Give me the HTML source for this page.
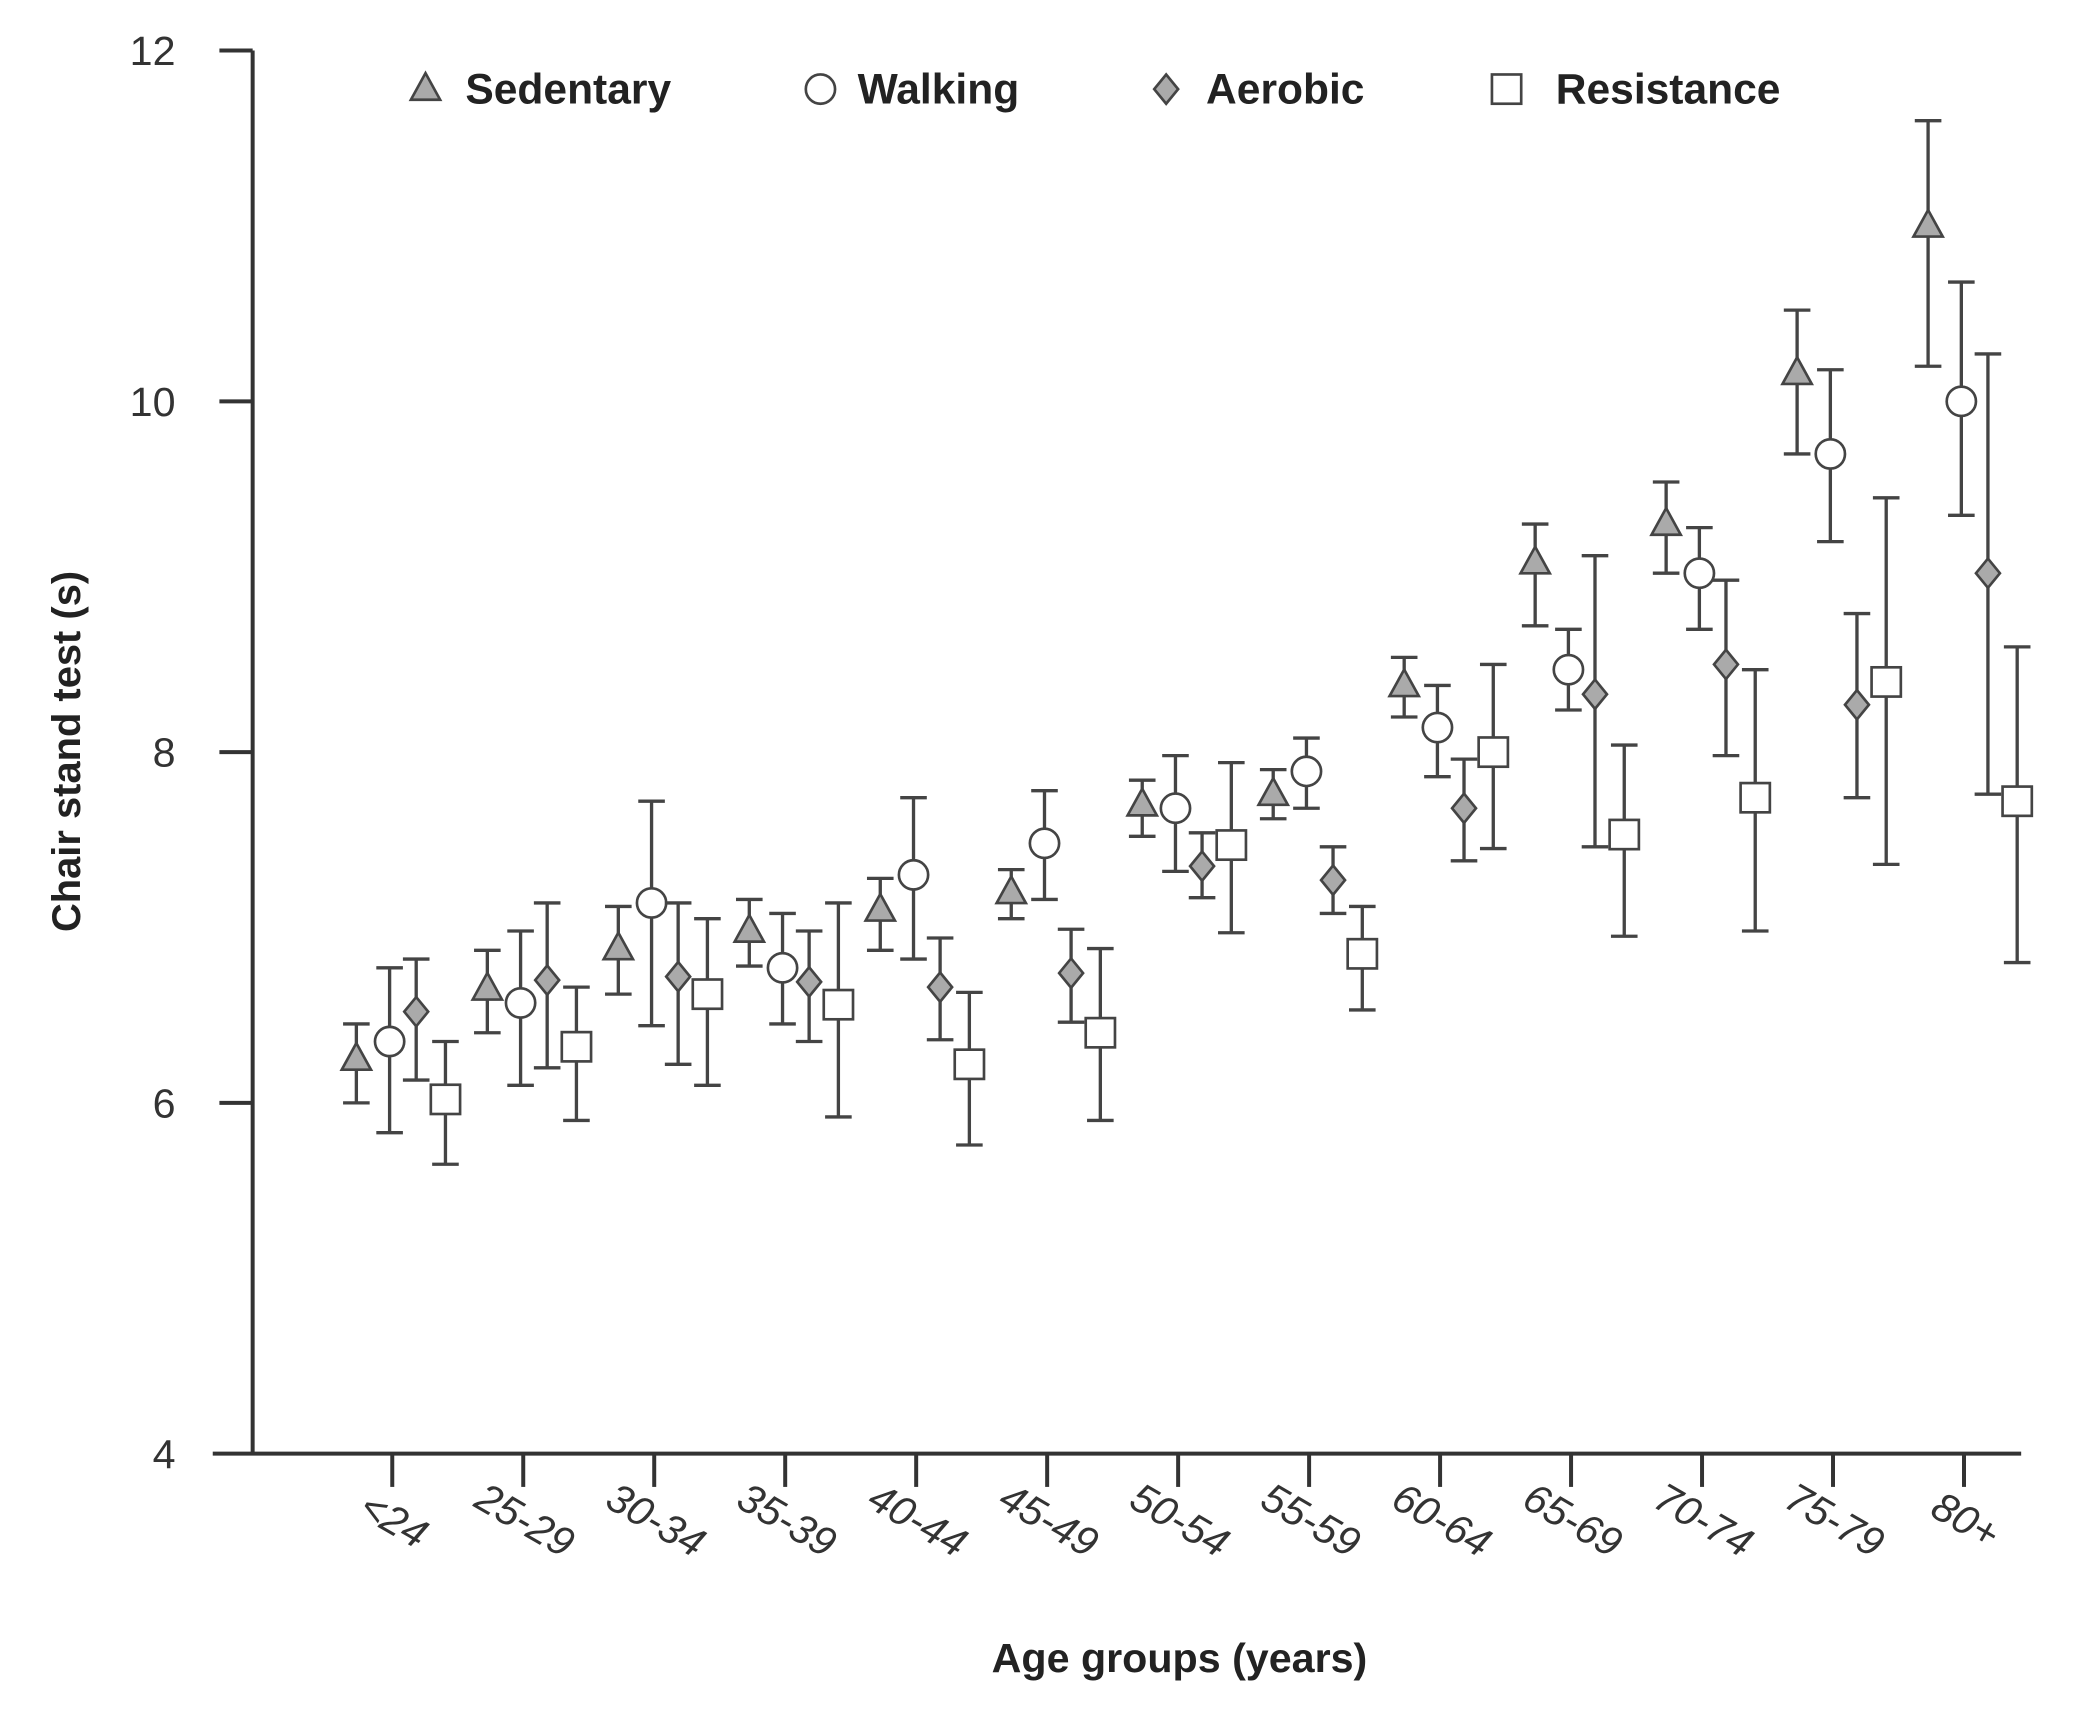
<!DOCTYPE html>
<html><head><meta charset="utf-8"><style>
html,body{margin:0;padding:0;background:#fff;}
svg{display:block;}
text{font-family:"Liberation Sans",sans-serif;}
</style></head><body>
<svg id="chart" width="2085" height="1717" viewBox="0 0 1568 1291" preserveAspectRatio="none" xmlns="http://www.w3.org/2000/svg">
<g id="axes"></g>
<g id="marks"></g>
<g id="legend"></g>
<text transform="translate(60,565) rotate(-90)" text-anchor="middle" font-size="30" font-weight="bold" fill="#222">Chair stand test (s)</text>
<text x="887" y="1257" text-anchor="middle" font-size="31" font-weight="bold" fill="#222">Age groups (years)</text>
</svg>
<script>
const categories=["<24","25-29","30-34","35-39","40-44","45-49","50-54","55-59","60-64","65-69","70-74","75-79","80+"];
const yTicks=[4,6,8,10,12];
const sedMean=[6.25,6.65,6.88,6.98,7.1,7.2,7.7,7.76,8.38,9.08,9.3,10.16,11.0];
const sedLo=[6.0,6.4,6.62,6.78,6.87,7.05,7.52,7.62,8.2,8.72,9.02,9.7,10.2];
const sedHi=[6.45,6.87,7.12,7.16,7.28,7.33,7.84,7.9,8.54,9.3,9.54,10.52,11.6];
const walkMean=[6.35,6.57,7.14,6.77,7.3,7.48,7.68,7.89,8.14,8.47,9.02,9.7,10.0];
const walkLo=[5.83,6.1,6.44,6.45,6.82,7.16,7.32,7.68,7.86,8.24,8.7,9.2,9.35];
const walkHi=[6.77,6.98,7.72,7.08,7.74,7.78,7.98,8.08,8.38,8.7,9.28,10.18,10.68];
const aerMean=[6.52,6.7,6.72,6.69,6.66,6.74,7.35,7.27,7.68,8.33,8.5,8.27,9.02];
const aerLo=[6.13,6.2,6.22,6.35,6.36,6.46,7.17,7.08,7.38,7.46,7.98,7.74,7.76];
const aerHi=[6.82,7.14,7.14,6.98,6.94,6.99,7.54,7.46,7.96,9.12,8.98,8.79,10.27];
const resMean=[6.02,6.32,6.62,6.56,6.22,6.4,7.47,6.85,8.0,7.53,7.74,8.4,7.72];
const resLo=[5.65,5.9,6.1,5.92,5.76,5.9,6.97,6.53,7.45,6.95,6.98,7.36,6.8];
const resHi=[6.35,6.66,7.05,7.14,6.63,6.88,7.94,7.12,8.5,8.04,8.47,9.45,8.6];

const NS="http://www.w3.org/2000/svg";
const X0=190,XE=1520,YB=1093,YT=38;
const yScale=v=>YB-(v-4)/(12-4)*(YB-YT);
const xScale=i=>295+i*98.5;
function mk(tag,attrs,parent){const e=document.createElementNS(NS,tag);for(const k in attrs)e.setAttribute(k,attrs[k]);parent.appendChild(e);return e;}
const axes=document.getElementById('axes'),marks=document.getElementById('marks'),legend=document.getElementById('legend');
const AX="#333";
let l=mk('line',{x1:X0,y1:YT,x2:X0,y2:YB,stroke:AX,'stroke-width':3},axes);


l=mk('line',{x1:160,y1:YB,x2:XE,y2:YB,stroke:AX,'stroke-width':3},axes);


yTicks.forEach(v=>{
  const y=yScale(v);
  if(v>4){const t=mk('line',{x1:165,y1:y,x2:X0,y2:y,stroke:AX,'stroke-width':3},axes);
  
  }
  const tx=mk('text',{x:132,y:y+11,'text-anchor':'end','font-size':31,fill:'#333'},axes);
  tx.textContent=v;
  
  
});
categories.forEach((c,i)=>{
  const x=xScale(i);
  const t=mk('line',{x1:x,y1:YB,x2:x,y2:YB+25,stroke:AX,'stroke-width':3},axes);
  
  
  const tx=mk('text',{transform:`translate(${x-4},1152) rotate(30)`,'text-anchor':'middle','font-size':31,'font-style':'italic',fill:'#333'},axes);
  tx.textContent=c;
  
  
});
function marker(kind,x,y,parent){
  const st={stroke:'#444','stroke-width':2};
  let e;
  if(kind==='tri') e=mk('polygon',Object.assign({points:`${x},${y-12} ${x-11},${y+8} ${x+11},${y+8}`,fill:'#aaa'},st),parent);
  else if(kind==='circ') e=mk('circle',Object.assign({cx:x,cy:y,r:11,fill:'#fff'},st),parent);
  else if(kind==='dia') e=mk('polygon',Object.assign({points:`${x},${y-11} ${x+9},${y} ${x},${y+11} ${x-9},${y}`,fill:'#aaa'},st),parent);
  else e=mk('rect',Object.assign({x:x-11,y:y-11,width:22,height:22,fill:'#fff'},st),parent);
  return e;
}
const series=[
 {name:'sedentary',kind:'tri',off:-27,m:sedMean,lo:sedLo,hi:sedHi},
 {name:'walking',kind:'circ',off:-2,m:walkMean,lo:walkLo,hi:walkHi},
 {name:'aerobic',kind:'dia',off:18,m:aerMean,lo:aerLo,hi:aerHi},
 {name:'resistance',kind:'sq',off:40,m:resMean,lo:resLo,hi:resHi}];
series.forEach(s=>{
  s.m.forEach((v,i)=>{
    const x=xScale(i)+s.off;
    const g=mk('g',{},marks);
    
    
    const yl=yScale(s.lo[i]),yh=yScale(s.hi[i]);
    mk('line',{x1:x,y1:yl,x2:x,y2:yh,stroke:'#444','stroke-width':2.5},g);
    mk('line',{x1:x-10,y1:yl,x2:x+10,y2:yl,stroke:'#444','stroke-width':2.5},g);
    mk('line',{x1:x-10,y1:yh,x2:x+10,y2:yh,stroke:'#444','stroke-width':2.5},g);
    marker(s.kind,x,yScale(v),g);
  });
});
const leg=[["tri",320,"Sedentary",350],["circ",617,"Walking",645],["dia",877,"Aerobic",907],["sq",1133,"Resistance",1170]];
leg.forEach(d=>{
  const g=mk('g',{},legend);
  
  
  marker(d[0],d[1],67,g);
  const t=mk('text',{x:d[3],y:78,'font-size':32,'font-weight':'bold',fill:'#222'},g);
  t.textContent=d[2];
});
</script>
</body></html>
